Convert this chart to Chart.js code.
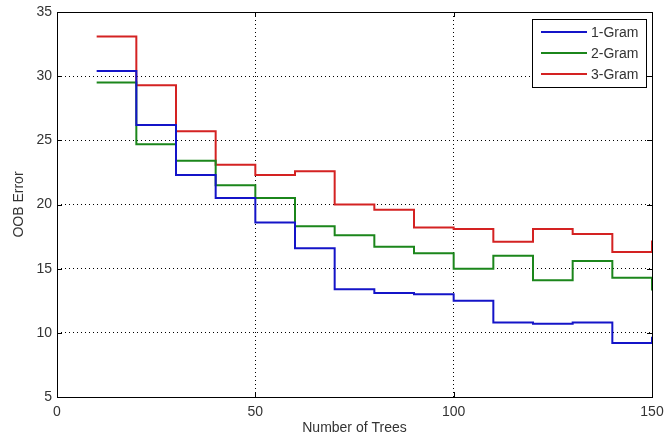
<!DOCTYPE html>
<html>
<head>
<meta charset="utf-8">
<script src="https://cdn.jsdelivr.net/npm/chart.js@4.4.1/dist/chart.umd.min.js"></script>
<style>
  html, body { margin: 0; padding: 0; background: #fff; }
  #wrap { width: 664px; height: 440px; }
</style>
</head>
<body>
<div id="wrap"><canvas id="chart" width="664" height="440"></canvas></div>
<script>
// dados (stairs, último ponto só marca o degrau final em x=150)
const numTrees = [10, 20, 30, 40, 50, 60, 70, 80, 90, 100, 110, 120, 130, 140, 150];
const gram1 = [30.4, 26.2, 22.3, 20.5, 18.6, 16.6, 13.4, 13.1, 13.0, 12.5, 10.8, 10.7, 10.8, 9.2, 9.7];
const gram2 = [29.5, 24.7, 23.4, 21.5, 20.5, 18.3, 17.6, 16.7, 16.2, 15.0, 16.0, 14.1, 15.6, 14.3, 13.3];
const gram3 = [33.1, 29.3, 25.7, 23.1, 22.3, 22.6, 20.0, 19.6, 18.2, 18.1, 17.1, 18.1, 17.7, 16.3, 17.2];
const seriesNames = ['1-Gram', '2-Gram', '3-Gram'];
const seriesColors = ['#1414c8', '#1b861b', '#d42222'];
const xTicks = [0, 50, 100, 150];
const yTicks = [5, 10, 15, 20, 25, 30, 35];

const fonte = 'Arial, "Liberation Sans", Helvetica, sans-serif';
const corTexto = '#333';

function montarSerie(valores, i) {
    return {
        label: seriesNames[i],
        data: numTrees.map((x, k) => ({ x: x, y: valores[k] })),
        borderColor: seriesColors[i],
        backgroundColor: seriesColors[i],
        borderWidth: 2,
        pointRadius: 0,
        stepped: 'before',
        fill: false
    };
}

// caixa estilo MATLAB, ticks internos e legenda com borda
const caixaMatlab = {
    id: 'caixaMatlab',
    afterDraw(chart) {
        const ctx = chart.ctx;
        const a = chart.chartArea;
        const sx = chart.scales.x;
        const sy = chart.scales.y;
        ctx.save();
        ctx.strokeStyle = '#000';
        ctx.lineWidth = 1;

        // ticks para dentro
        const tl = 5;
        ctx.beginPath();
        xTicks.forEach(v => {
            const px = Math.round(sx.getPixelForValue(v)) + 0.5;
            ctx.moveTo(px, a.bottom); ctx.lineTo(px, a.bottom - tl);
            ctx.moveTo(px, a.top); ctx.lineTo(px, a.top + tl);
        });
        yTicks.forEach(v => {
            const py = Math.round(sy.getPixelForValue(v)) + 0.5;
            ctx.moveTo(a.left, py); ctx.lineTo(a.left + tl, py);
            ctx.moveTo(a.right, py); ctx.lineTo(a.right - tl, py);
        });
        ctx.stroke();

        ctx.strokeRect(Math.round(a.left) + 0.5, Math.round(a.top) + 0.5,
            Math.round(a.right - a.left), Math.round(a.bottom - a.top));

        // legenda
        const lx = 532, ly = 19, lw = 114, lh = 68;
        ctx.fillStyle = '#fff';
        ctx.fillRect(lx, ly, lw, lh);
        ctx.strokeRect(lx + 0.5, ly + 0.5, lw, lh);
        ctx.font = '14px ' + fonte;
        ctx.textBaseline = 'middle';
        chart.data.datasets.forEach((ds, i) => {
            const yy = ly + 13 + i * 21;
            ctx.strokeStyle = ds.borderColor;
            ctx.lineWidth = 2;
            ctx.beginPath();
            ctx.moveTo(lx + 9, yy);
            ctx.lineTo(lx + 55, yy);
            ctx.stroke();
            ctx.fillStyle = corTexto;
            ctx.fillText(ds.label, lx + 59, yy + 1);
        });
        ctx.restore();
    }
};

document.addEventListener('DOMContentLoaded', () => {
    const ctx = document.getElementById('chart');
    new Chart(ctx, {
        type: 'line',
        data: { datasets: [montarSerie(gram1, 0), montarSerie(gram2, 1), montarSerie(gram3, 2)] },
        options: {
            responsive: false,
            animation: false,
            layout: { padding: { top: 12, right: 12, left: 0, bottom: 0 } },
            plugins: { legend: { display: false }, tooltip: { enabled: false } },
            scales: {
                x: {
                    type: 'linear',
                    min: 0, max: 150,
                    afterBuildTicks: s => { s.ticks = xTicks.map(v => ({ value: v })); },
                    grid: { color: '#000', lineWidth: 1, drawTicks: false },
                    border: { display: false, dash: [1, 3] },
                    ticks: { color: corTexto, font: { family: fonte, size: 14 }, padding: 7, maxRotation: 0 },
                    title: { display: true, text: 'Number of Trees', color: corTexto, font: { family: fonte, size: 14 }, padding: { top: 1, bottom: 3 } },
                    afterFit: s => { s.height = 43; s.paddingLeft = 0; s.paddingRight = 0; }
                },
                y: {
                    type: 'linear',
                    min: 5, max: 35,
                    afterBuildTicks: s => { s.ticks = yTicks.map(v => ({ value: v })); },
                    grid: { color: '#000', lineWidth: 1, drawTicks: false },
                    border: { display: false, dash: [1, 3] },
                    ticks: { color: corTexto, font: { family: fonte, size: 14 }, padding: 5 },
                    title: { display: true, text: 'OOB Error', color: corTexto, font: { family: fonte, size: 14 }, padding: { top: 11, bottom: 4 } },
                    afterFit: s => { s.width = 57; s.paddingTop = 0; s.paddingBottom = 0; }
                }
            }
        },
        plugins: [caixaMatlab]
    });
});
</script>
</body>
</html>
